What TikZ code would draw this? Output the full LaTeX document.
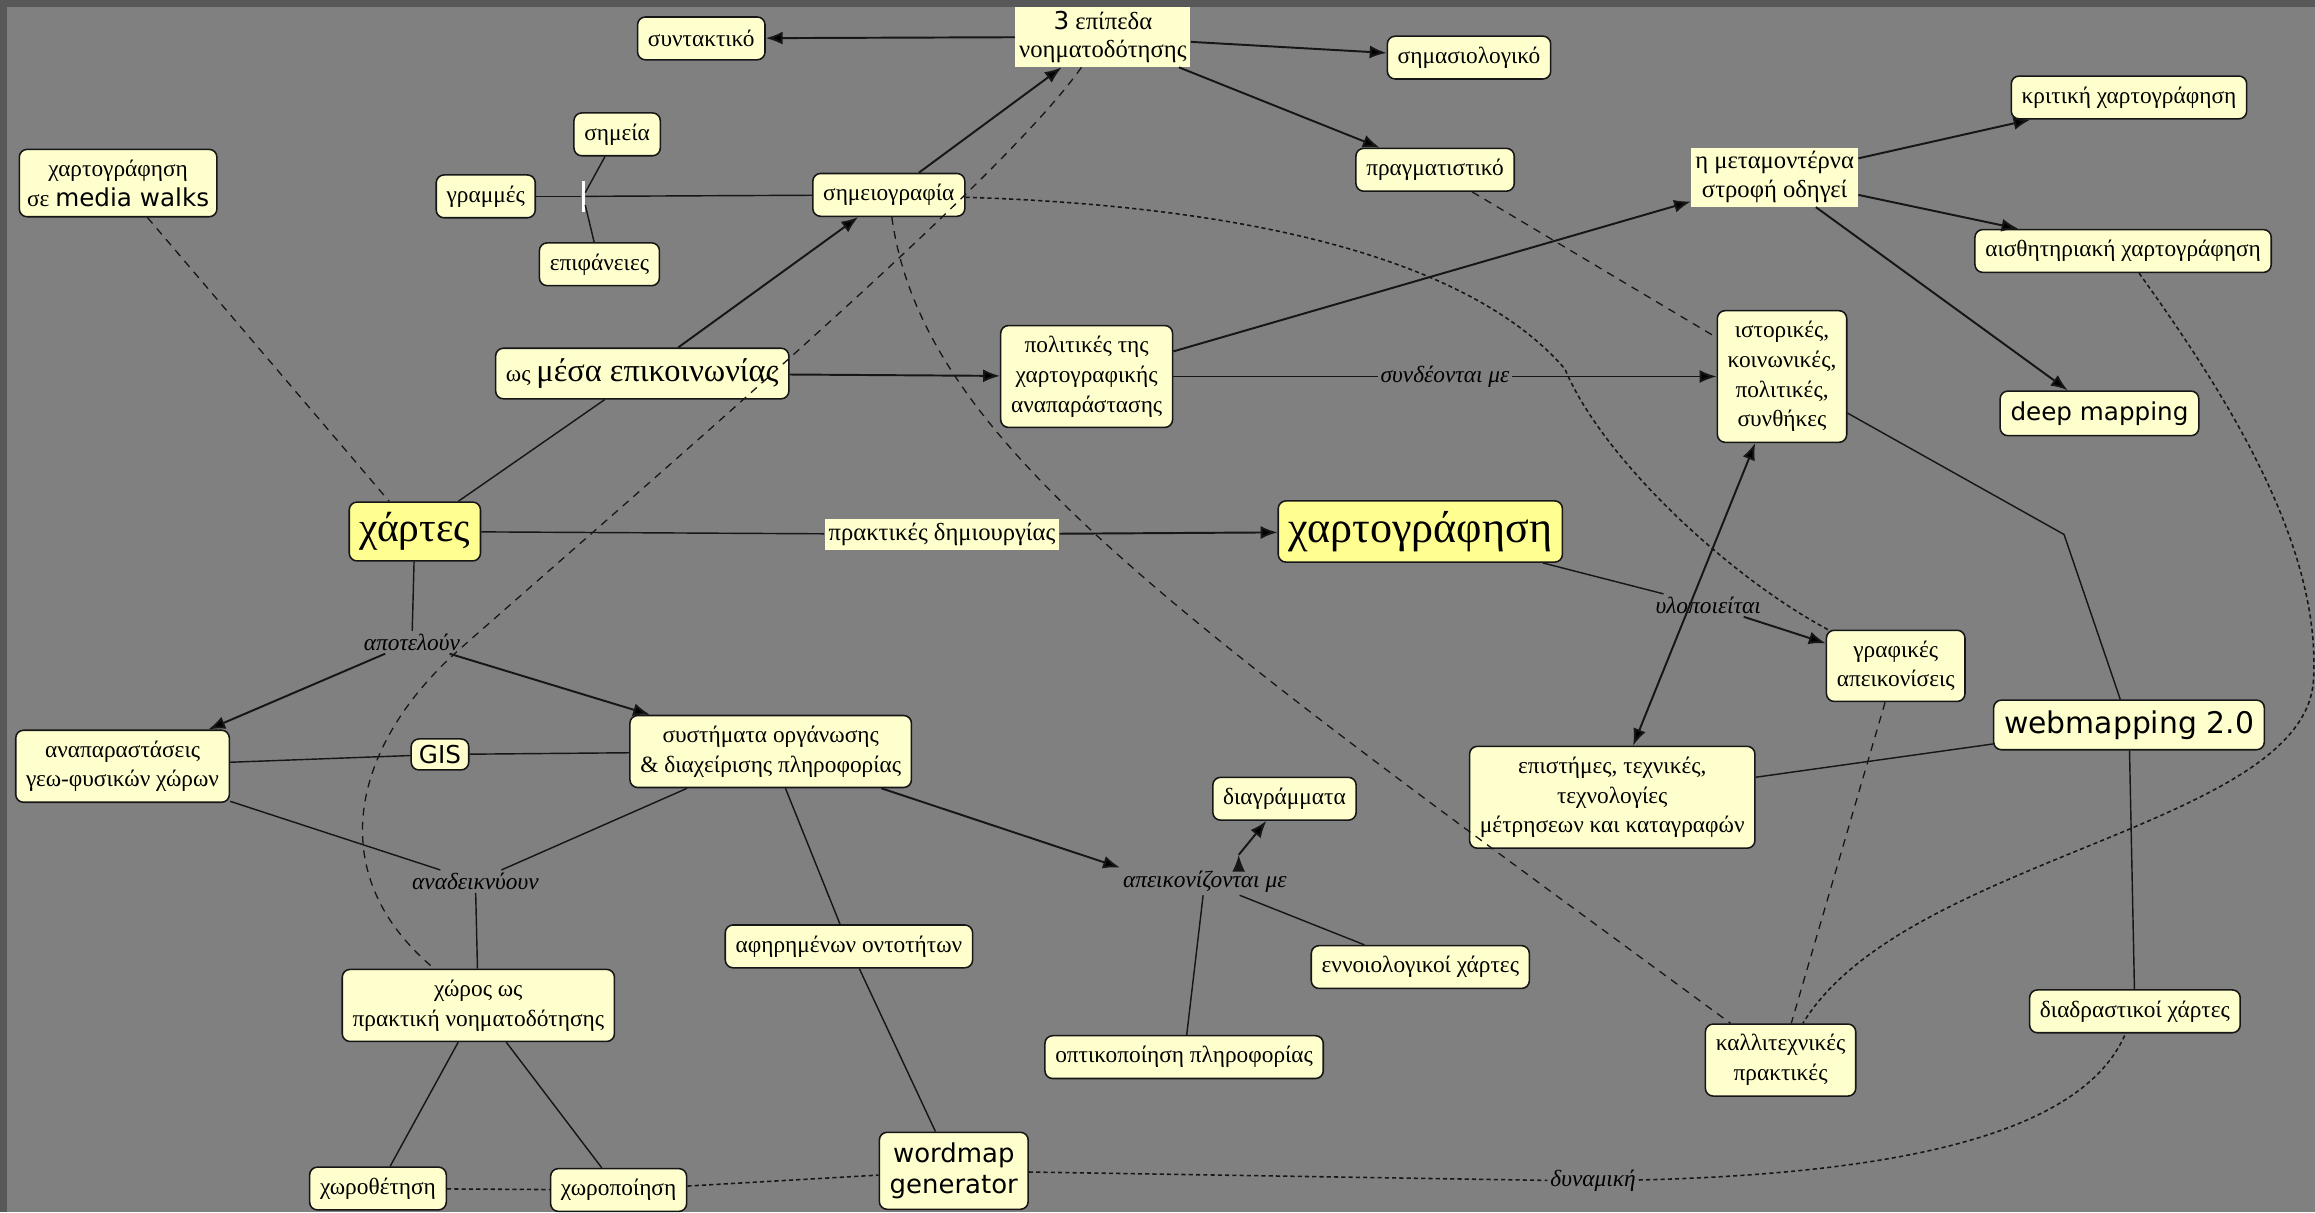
\documentclass[tikz,border=0pt]{standalone}
\usepackage{fontspec}
\setmainfont{Liberation Serif}
\newfontfamily\sansgr{DejaVu Sans}
\usepackage{tikz}
\usetikzlibrary{positioning}
\usetikzlibrary{arrows.meta}

\definecolor{bggray}{RGB}{128,128,128}
\definecolor{framegray}{RGB}{88,88,88}
\definecolor{paleyellow}{RGB}{255,255,206}
\definecolor{keyyellow}{RGB}{255,255,145}
\definecolor{edgeblack}{RGB}{22,22,22}

\begin{document}
\begin{tikzpicture}[x=0.02cm,y=-0.02cm,>={Latex[length=6.5pt,width=5pt]},
	concept node/.style={draw=edgeblack,line width=0.6pt,fill=paleyellow,rounded corners=3pt,
		align=center,inner xsep=4pt,inner ysep=4pt,minimum height=0.58cm,
		font=\fontsize{9}{11.5}\selectfont},
	key node/.style={concept node,fill=keyyellow,font=\fontsize{16}{18}\selectfont},
	phrase node/.style={fill=paleyellow,align=center,inner sep=1.5pt,font=\fontsize{9.5}{11}\selectfont},
	link label/.style={inner sep=1pt,font=\fontsize{9}{11}\selectfont\itshape},
	junction tick/.style={fill=white,inner sep=0pt,minimum width=1.2pt,minimum height=0.42cm},
	plain link/.style={draw=edgeblack,line width=0.55pt},
	arrow link/.style={draw=edgeblack,line width=0.75pt,->},
	loose dash/.style={draw=edgeblack,line width=0.5pt,dash pattern=on 3pt off 2.5pt},
	fine dash/.style={draw=edgeblack,line width=0.6pt,dash pattern=on 1.6pt off 1.2pt}]

	\fill[framegray] (0,0) rectangle (1568,821);
	\fill[bggray] (5,5) rectangle (1568,821);
	\useasboundingbox (0,0) rectangle (1568,821);

	\node[phrase node] (epipeda) at (747,25) {{\sansgr 3} επίπεδα\\νοηματοδότησης};
	\node[concept node] (syntaktiko) at (475,26) {συντακτικό};
	\node[concept node] (simasiologiko) at (995,39) {σημασιολογικό};
	\node[concept node] (pragmatistiko) at (972,115) {πραγματιστικό};
	\node[concept node] (kritiki) at (1442,66) {κριτική χαρτογράφηση};
	\node[phrase node] (metamonterna) at (1202,120) {η μεταμοντέρνα\\στροφή οδηγεί};
	\node[concept node] (aisthitiriaki) at (1438,170) {αισθητηριακή χαρτογράφηση};
	\node[concept node,font=\sansgr\fontsize{9.5}{11}\selectfont] (deepmap) at (1422,280) {deep mapping};
	\node[concept node] (istorikes) at (1207,255) {ιστορικές,\\κοινωνικές,\\πολιτικές,\\συνθήκες};
	\node[concept node,inner xsep=3pt] (mediawalks) at (80,124) {χαρτογράφηση\\σε {\sansgr\fontsize{9.5}{11.5}\selectfont media walks}};
	\node[concept node] (simeia) at (418,91) {σημεία};
	\node[concept node] (grammes) at (329,133) {γραμμές};
	\node[concept node] (epifaneies) at (406,179) {επιφάνειες};
	\node[junction tick] (junct) at (395,133) {};
	\node[concept node] (simeiografia) at (602,132) {σημειογραφία};
	\node[concept node] (mesa) at (435,253) {ως {\fontsize{12.5}{14}\selectfont μέσα επικοινωνίας}};
	\node[concept node] (politikes) at (736,255) {πολιτικές της\\χαρτογραφικής\\αναπαράστασης};
	\node[key node] (xartes) at (281,360) {χάρτες};
	\node[phrase node] (praktikes) at (638,362) {πρακτικές δημιουργίας};
	\node[key node,font=\fontsize{17}{19}\selectfont] (xartografisi) at (962,360) {χαρτογράφηση};
	\node[link label] (ylopoieitai) at (1157,410) {υλοποιείται};
	\node[concept node] (grafikes) at (1284,451) {γραφικές\\απεικονίσεις};
	\node[concept node,font=\sansgr\fontsize{11.5}{13}\selectfont] (webmap) at (1442,491) {webmapping 2.0};
	\node[concept node] (epistimes) at (1092,540) {επιστήμες, τεχνικές,\\τεχνολογίες\\μέτρησεων και καταγραφών};
	\node[link label] (apoteloun) at (279,435) {αποτελούν};
	\node[concept node] (anaparastaseis) at (83,519) {αναπαραστάσεις\\γεω-φυσικών χώρων};
	\node[concept node,font=\sansgr\fontsize{9.5}{11}\selectfont,minimum height=0.42cm,inner ysep=1.5pt,inner xsep=3pt] (gis) at (298,511) {GIS};
	\node[concept node] (systimata) at (522,509) {συστήματα οργάνωσης\\\& διαχείρισης πληροφορίας};
	\node[concept node] (diagrammata) at (870,541) {διαγράμματα};
	\node[link label] (anadeiknyoun) at (322,597) {αναδεικνύουν};
	\node[link label] (apeikonizontai) at (816,597) {απεικονίζονται με};
	\node[concept node] (afirimenon) at (575,641) {αφηρημένων οντοτήτων};
	\node[concept node] (ennoiologikoi) at (962,655) {εννοιολογικοί χάρτες};
	\node[concept node] (xoros) at (324,681) {χώρος ως\\πρακτική νοηματοδότησης};
	\node[concept node] (optikopoiisi) at (802,716) {οπτικοποίηση πληροφορίας};
	\node[concept node] (kallitexnikes) at (1206,718) {καλλιτεχνικές\\πρακτικές};
	\node[concept node] (diadrastikoi) at (1446,685) {διαδραστικοί χάρτες};
	\node[concept node] (xorothetisi) at (256,805) {χωροθέτηση};
	\node[concept node] (xoropoiisi) at (419,806) {χωροποίηση};
	\node[concept node,font=\sansgr\fontsize{10}{12}\selectfont] (wordmap) at (646,793) {wordmap\\generator};
	\node[link label] (dynamiki) at (1079,800) {δυναμική};
	\coordinate (bend) at (1398,362);
	\coordinate (apeik top) at (839,579);

	\path[arrow link]
	(epipeda) edge [] (syntaktiko)
	(epipeda) edge [] (simasiologiko)
	(epipeda) edge [] (pragmatistiko)
	(simeiografia) edge [] (epipeda)
	(mesa) edge [] (simeiografia)
	(mesa) edge [] (politikes)
	(politikes) edge [] (metamonterna)
	(politikes) edge [] node [link label,fill=bggray] {συνδέονται με} (istorikes)
	(metamonterna) edge [] (kritiki)
	(metamonterna) edge [] (aisthitiriaki)
	(metamonterna) edge [] (deepmap)
	(praktikes) edge [] (xartografisi)
	(apoteloun) edge [] (anaparastaseis)
	(apoteloun) edge [] (systimata)
	(systimata) edge [] (apeikonizontai.north west)
	(apeik top) edge [] (diagrammata)
	(ylopoieitai) edge [] (grafikes)
	(istorikes) edge [<->] (epistimes);

	\path[plain link]
	(xartes) edge [] (mesa)
	(xartes) edge [] (praktikes)
	(xartes) edge [] (apoteloun)
	(grammes) edge [] (junct)
	(junct) edge [] (simeiografia)
	(simeia) edge [] (junct)
	(junct) edge [] (epifaneies)
	(anaparastaseis) edge [] (gis)
	(gis) edge [] (systimata)
	(anaparastaseis) edge [] (anadeiknyoun)
	(systimata) edge [] (anadeiknyoun)
	(anadeiknyoun) edge [] (xoros)
	(xoros) edge [] (xorothetisi)
	(xoros) edge [] (xoropoiisi)
	(systimata) edge [] (afirimenon)
	(afirimenon) edge [] (wordmap)
	(optikopoiisi) edge [] (apeikonizontai)
	(apeikonizontai) edge [] (ennoiologikoi)
	(xartografisi) edge [] (ylopoieitai)
	(webmap) edge [] (epistimes)
	(webmap) edge [] (diadrastikoi);
	\draw[plain link] (istorikes) -- (bend) -- (webmap);

	\path[loose dash]
	(mediawalks) edge [] (xartes)
	(pragmatistiko) edge [] (istorikes)
	(grafikes) edge [] (kallitexnikes);
	\draw[loose dash] (simeiografia) .. controls (625,300) and (800,420) .. (kallitexnikes);
	\draw[loose dash] (epipeda) .. controls (680,120) and (470,300) .. (311,440)
		.. controls (241,502) and (215,590) .. (xoros);

	\draw[fine dash] (simeiografia) .. controls (860,140) and (1000,180) .. (1060,250)
		.. controls (1085,310) and (1170,390) .. (grafikes);
	\draw[fine dash] (aisthitiriaki) .. controls (1510,270) and (1572,370) .. (1567,460)
		.. controls (1562,560) and (1290,580) .. (kallitexnikes);
	\path[fine dash]
	(xorothetisi) edge [] (xoropoiisi)
	(xoropoiisi) edge [] (wordmap)
	(wordmap) edge [] (dynamiki);
	\draw[fine dash] (dynamiki) .. controls (1280,795) and (1410,770) .. (diadrastikoi);
\end{tikzpicture}
\end{document}
